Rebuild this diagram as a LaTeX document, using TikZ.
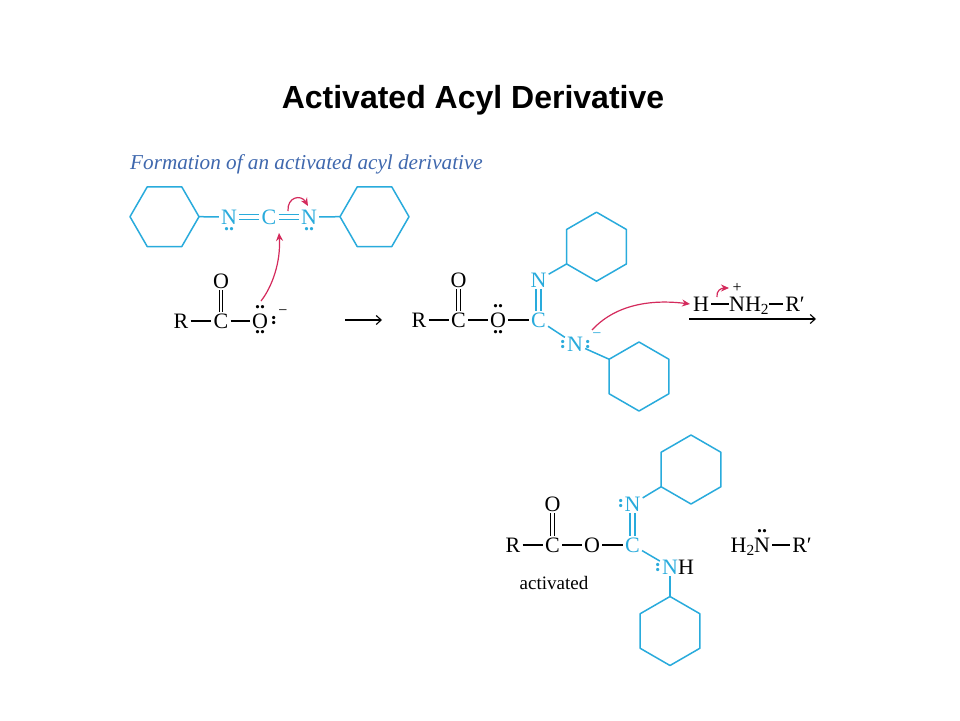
\documentclass[tikz,border=0pt]{standalone}
\usepackage{fontspec}
\setmainfont{Liberation Serif}
\newfontfamily\titlefont{Liberation Sans}
\usetikzlibrary{shapes.geometric,arrows.meta}
\definecolor{acylblue}{HTML}{29ABDC}
\definecolor{acylred}{HTML}{D42A5C}
\definecolor{headblue}{HTML}{3F68AE}
\tikzset{
	atom/.style={inner sep=2pt, text height=14.5pt, text depth=0pt, font=\fontsize{22}{22}\selectfont},
	batom/.style={atom, text=acylblue},
	hexf/.style={draw=acylblue, line width=1.5pt, regular polygon, regular polygon sides=6, minimum size=69pt, inner sep=0pt, outer sep=0pt},
	hexp/.style={hexf, regular polygon rotate=30},
	bond/.style={line width=1.1pt, black},
	bbond/.style={line width=1.5pt, acylblue},
	dbl/.style={double, double distance=2.4pt, line width=1.1pt},
	dblw/.style={double, double distance=3.6pt, line width=1.3pt},
	lp/.style={inner sep=0pt, text height=2.4pt, text depth=0pt, font=\fontsize{20}{20}\bfseries\selectfont},
	blp/.style={lp, text=acylblue},
	chg/.style={inner sep=0pt, font=\fontsize{16}{16}\selectfont},
	push/.style={-{Stealth[length=8pt,width=7pt]}, line width=1.2pt, acylred},
	react/.style={-{Straight Barb[length=5pt,width=9pt]}, line width=1.1pt, black}
}
\begin{document}
\begin{tikzpicture}[x=1pt,y=-1pt,line join=round]
	\useasboundingbox[fill=white] (0,0) rectangle (960,720);
	% headings
	\node[inner sep=0pt, font=\fontsize{32}{32}\titlefont\bfseries] (title) at (473,100) {Activated Acyl Derivative};
	\node[inner sep=0pt, anchor=west, text=headblue, font=\fontsize{21.2}{22}\itshape\selectfont] (sub) at (130,164) {Formation of an activated acyl derivative};
	% carbodiimide
	\node[hexf] (hexL) at (164.5,216.7) {};
	\node[hexf] (hexR) at (374.5,216.7) {};
	\node[batom] (nL) at (229,217) {N};
	\node[batom] (cM) at (269,217) {C};
	\node[batom] (nR) at (309,217) {N};
	\node[blp] (nLp) at (229,229) {..};
	\node[blp] (nRp) at (309,229) {..};
	\draw[bbond] (hexL.corner 6) -- (nL);
	\draw[bbond] (nR) -- (hexR.corner 3);
	\draw[bbond,dblw] (nL) -- (cM);
	\draw[bbond,dblw] (cM) -- (nR);
	% carboxylate
	\node[atom] (r1) at (181,321) {R};
	\node[atom] (c1) at (221,321) {C};
	\node[atom] (o1) at (260,321) {O};
	\node[atom] (ox1) at (221,281) {O};
	\node[lp] (o1a) at (260,307) {..};
	\node[lp] (o1b) at (260,332) {..};
	\node[lp,rotate=90] (o1c) at (274,320) {..};
	\node[chg] (o1m) at (283,313) {−};
	\draw[bond] (r1) -- (c1);
	\draw[bond] (c1) -- (o1);
	\draw[bond,dbl] (c1) -- (ox1);
	\coordinate (arA) at (345,320);
	\coordinate (arB) at (382,320);
	\draw[react] (arA) -- (arB);
	\coordinate (pA) at (261,301);
	\coordinate (pB) at (279,233);
	\draw[push] (pA) .. controls (272,287) and (281,262) .. (pB);
	\coordinate (pC) at (288,211);
	\coordinate (pD) at (308,206);
	\draw[push] (pC) .. controls (287,197) and (301,194) .. (pD);
	% adduct
	\node[atom] (r2) at (419,320) {R};
	\node[atom] (c2) at (458.5,320) {C};
	\node[atom] (o2) at (498,320) {O};
	\node[atom] (ox2) at (458.5,280) {O};
	\node[lp] (o2a) at (498,306) {..};
	\node[lp] (o2b) at (498,332) {..};
	\node[batom] (c3) at (538.5,320) {C};
	\node[batom] (n3) at (538.5,280) {N};
	\node[batom] (n4) at (575,344) {N};
	\node[blp,rotate=90] (n4a) at (563,344) {..};
	\node[blp,rotate=90] (n4b) at (588,344) {..};
	\node[chg,text=acylblue] (n4m) at (597,336) {−};
	\node[hexp] (hexA) at (596.5,246.7) {};
	\node[hexp] (hexB) at (639,376.5) {};
	\draw[bond] (r2) -- (c2);
	\draw[bond] (c2) -- (o2);
	\draw[bond,dbl] (c2) -- (ox2);
	\draw[bond] (o2) -- (c3);
	\draw[bbond,dblw] (c3) -- (n3);
	\draw[bbond] (c3) -- (n4);
	\draw[bbond] (n3) -- (hexA.corner 3);
	\draw[bbond] (n4) -- (hexB.corner 2);
	% amine salt
	\node[atom] (h5) at (701,304) {H};
	\node[atom,anchor=west,inner sep=0pt] (nh5) at (729,304) {NH\textsubscript{2}};
	\node[atom] (rp5) at (795,304) {R′};
	\node[chg] (nh5p) at (737,288) {+};
	\draw[bond] (h5) -- (nh5);
	\draw[bond] (nh5) -- (rp5);
	\coordinate (arC) at (689,319);
	\coordinate (arD) at (816,319);
	\draw[react] (arC) -- (arD);
	\coordinate (pE) at (592,330);
	\coordinate (pF) at (690,304);
	\draw[push] (pE) .. controls (615,305) and (650,299) .. (pF);
	\coordinate (pG) at (717,297);
	\coordinate (pH) at (729,288);
	\draw[push] (pG) .. controls (716,291) and (721,288) .. (pH);
	% products
	\node[atom] (r6) at (513,545) {R};
	\node[atom] (c6) at (552.5,545) {C};
	\node[atom] (o6) at (592,545) {O};
	\node[atom] (ox6) at (552.5,504) {O};
	\node[batom] (c7) at (632.5,545) {C};
	\node[batom] (n7) at (632.5,504) {N};
	\node[blp,rotate=90] (n7a) at (621,503) {..};
	\node[batom] (n8) at (670,567) {N};
	\node[atom,anchor=west,inner sep=0pt] (h8) at (678,567) {H};
	\node[blp,rotate=90] (n8a) at (658,567) {..};
	\node[hexp] (hexC) at (691,469.5) {};
	\node[hexp] (hexD) at (670,631) {};
	\node[inner sep=0pt, font=\fontsize{19}{20}\selectfont] (act) at (554,583) {activated};
	\draw[bond] (r6) -- (c6);
	\draw[bond] (c6) -- (o6);
	\draw[bond,dbl] (c6) -- (ox6);
	\draw[bond] (o6) -- (c7);
	\draw[bbond,dblw] (c7) -- (n7);
	\draw[bbond] (c7) -- (n8);
	\draw[bbond] (n7) -- (hexC.corner 3);
	\draw[bbond] (n8) -- (hexD.corner 1);
	\node[atom,anchor=east,inner sep=0pt] (h9) at (755,545) {H\textsubscript{2}};
	\node[atom] (n9) at (762,545) {N};
	\node[lp] (n9a) at (762,531) {..};
	\node[atom] (rp9) at (802,545) {R′};
	\draw[bond] (n9) -- (rp9);
\end{tikzpicture}
\end{document}
